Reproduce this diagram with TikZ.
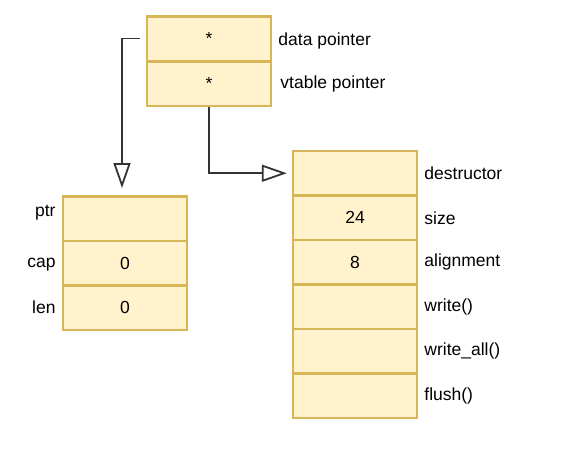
\documentclass[tikz,border=0pt]{standalone}
\usepackage{fontspec}
\setmainfont{Liberation Sans}
\usetikzlibrary{arrows.meta,positioning}
\definecolor{cellfill}{HTML}{FFF2CC}
\definecolor{celldraw}{HTML}{D6B656}
\definecolor{wire}{HTML}{333333}
\begin{document}
\begin{tikzpicture}[x=1pt, y=-1pt,
  font=\fontsize{17.5}{21}\selectfont,
  cell/.style={rectangle, draw=celldraw, fill=cellfill, line width=2.5pt,
    minimum width=124pt, minimum height=44.5pt, inner sep=0pt},
  lbl/.style={inner sep=2pt},
  ptrarrow/.style={draw=wire, line width=1.8pt,
    -{Triangle[open, length=25pt, width=17pt, fill=white]}}]
\useasboundingbox (0,0) rectangle (570,451);
% fat pointer
\node[cell] (data) at (209,38.5){*};
\node[cell] (vtable) at (209,83.5){*};
\node[lbl, right=4pt of data, yshift=-2pt] (datalbl){data pointer};
\node[lbl, right=6pt of vtable] (vtablelbl){vtable pointer};
% vec
\node[cell] (ptr) at (125,218.5){};
\node[cell] (cap) at (125,263){0};
\node[cell] (len) at (125,307.5){0};
\node[lbl, left=4pt of ptr, yshift=6pt] (ptrlbl){ptr};
\node[lbl, left=4pt of cap, yshift=-2pt] (caplbl){cap};
\node[lbl, left=4pt of len] (lenlbl){len};
% vtable
\node[cell] (destructor) at (355,173.25){};
\node[cell] (size) at (355,217.75){24};
\node[cell] (alignment) at (355,262.25){8};
\node[cell] (write) at (355,306.75){};
\node[cell] (writeall) at (355,351.25){};
\node[cell] (flush) at (355,395.75){};
\node[lbl, right=4pt of destructor] (destructorlbl){destructor};
\node[lbl, right=4pt of size] (sizelbl){size};
\node[lbl, right=4pt of alignment] (alignmentlbl){alignment};
\node[lbl, right=4pt of write] (writelbl){write()};
\node[lbl, right=4pt of writeall] (writealllbl){write\_all()};
\node[lbl, right=4pt of flush] (flushlbl){flush()};
% pointers
\coordinate (ptrin) at (122,188);
\draw[ptrarrow, shorten <=6pt] (data.west) -| (ptrin);
\draw[ptrarrow, shorten >=5pt] (vtable.south) |- (destructor.west);
\end{tikzpicture}
\end{document}
